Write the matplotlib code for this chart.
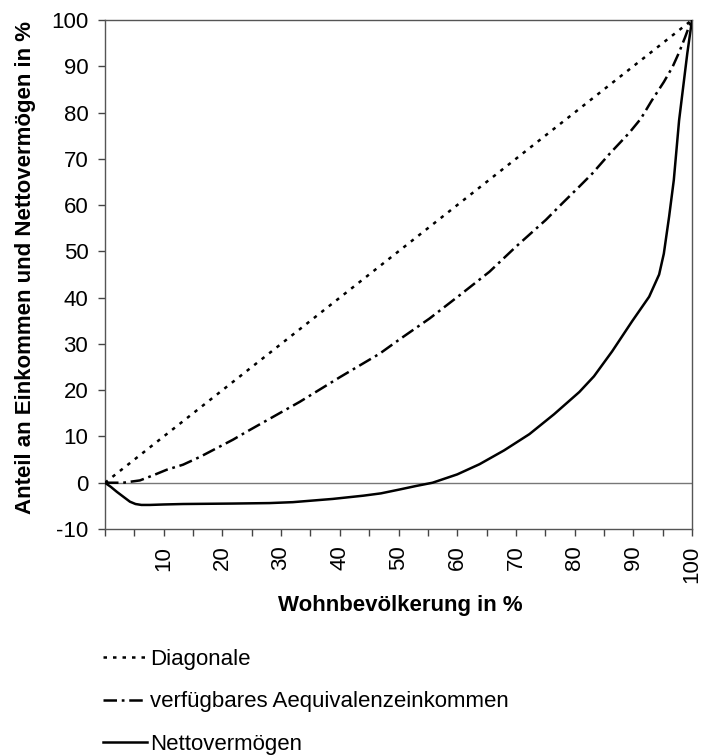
import matplotlib
matplotlib.use("Agg")
import matplotlib.pyplot as plt

plt.rcParams['font.family'] = ['Liberation Sans', 'DejaVu Sans']

# Data
diag_x = [0, 100]
diag_y = [0, 100]

inc_x = [0, 3.1, 5.95, 8.2, 10.5, 13.3, 16.2, 21.8, 24.1, 33.2, 40, 46.8, 50.2, 55.3, 60.4,
         65.5, 70, 75.1, 78, 80.8, 83.0, 85.9, 87.6, 89.3, 91.3, 93.1, 95.2, 96.7, 97.8,
         98.8, 99.5, 100]
inc_y = [0, 0.0, 0.5, 1.6, 2.8, 3.9, 5.6, 9.3, 11.0, 17.5, 22.8, 27.9, 31.0, 35.5, 40.5,
         45.6, 51, 56.8, 60.5, 64.0, 66.8, 71.0, 73.3, 75.6, 78.7, 82.5, 86.6, 89.9, 93.0,
         96.2, 98.6, 100]

net_x = [0, 1.0, 2.0, 3.2, 4.25, 5.2, 6.2, 7.65, 10, 13.3, 21.8, 28, 32, 38.8, 44, 47,
         50.2, 53, 55.8, 60, 63.8, 68, 72.3, 76.5, 80.8, 83.3, 86.4, 89.8, 92.7, 94.4,
         95.2, 96.1, 96.9, 97.8, 99.2, 100]
net_y = [0, -0.9, -1.95, -3.1, -4.1, -4.6, -4.8, -4.8, -4.7, -4.6, -4.5, -4.4, -4.2,
         -3.5, -2.8, -2.3, -1.46, -0.7, 0, 1.8, 4.0, 7.0, 10.5, 14.8, 19.6, 23.0, 28.4,
         34.9, 40.2, 45.0, 49.5, 57.5, 65.4, 78.3, 92.8, 100]

x_ticks = list(range(0, 101, 5))
x_labels = ['' if (t % 10 or t == 0) else str(t) for t in x_ticks]
y_ticks = list(range(-10, 101, 10))

fig = plt.figure(figsize=(7.01, 7.56), dpi=100)
ax = fig.add_axes([105/701, 1-529/756, (692-105)/701, (529-20)/756])

ax.axhline(0, color='#777777', lw=1.0, zorder=1)
l1, = ax.plot(diag_x, diag_y, color='black', lw=1.8, linestyle=(0, (1.4, 2.4)),
              label='Diagonale', zorder=3)
l2, = ax.plot(inc_x, inc_y, color='black', lw=1.8, linestyle=(0, (5.4, 1.9, 1.1, 1.9)),
              label='verfügbares Aequivalenzeinkommen', zorder=3)
l3, = ax.plot(net_x, net_y, color='black', lw=1.8, linestyle='-',
              label='Nettovermögen', zorder=3)

ax.set_xlim(0, 100)
ax.set_ylim(-10, 100)
ax.set_xticks(x_ticks)
ax.set_xticklabels(x_labels, rotation=90, fontsize=16)
ax.set_yticks(y_ticks)
ax.set_yticklabels([str(t) for t in y_ticks], fontsize=16)
ax.tick_params(axis='both', direction='out', length=5, width=1, color='#444444', pad=7)

for s in ax.spines.values():
    s.set_color('#555555')
    s.set_linewidth(1.0)

ax.set_xlabel('Wohnbevölkerung in %', fontsize=16, fontweight='bold')
ax.xaxis.label.set_va('center')
ax.xaxis.set_label_coords((400-105)/587, (529-606)/509)
ax.set_ylabel('Anteil an Einkommen und Nettovermögen in %', fontsize=16,
              fontweight='bold')
ax.yaxis.label.set_va('center')
ax.yaxis.set_label_coords((25-105)/587, (529-268)/509)

leg = fig.legend(handles=[l1, l2, l3], loc='center left',
                 bbox_to_anchor=(103/701, 1-702/756), frameon=False, fontsize=16,
                 handlelength=2.0, handletextpad=0.1, labelspacing=0.97,
                 borderaxespad=0, borderpad=0)

fig.savefig('out.png', dpi=100)
